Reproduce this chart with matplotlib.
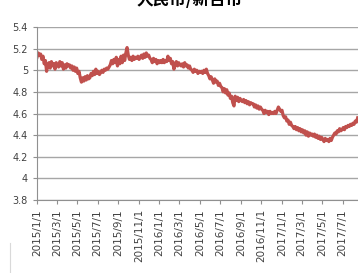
import pandas as pd
import matplotlib.pyplot as plt
from matplotlib.lines import Line2D

plt.rcParams['font.family'] = ['Noto Sans CJK SC', 'DejaVu Sans']

# readings about twice a week, 2015/1/1 .. 2017/8/15 (one row per month)
rate = [5.12, 5.16, 5.14, 5.15, 5.10, 5.13, 5.06, 5.09, 4.99, 5.05,
        5.07, 5.02, 5.08, 5.04, 5.06, 5.01, 5.07, 5.05,
        5.03, 5.08, 5.04, 5.07, 5.01, 5.05, 5.02, 5.06, 5.04,
        5.05, 5.02, 5.04, 5.00, 5.03, 4.99, 5.02, 4.97, 4.99,
        4.93, 4.89, 4.93, 4.90, 4.94, 4.91, 4.95, 4.92,
        4.93, 4.97, 4.95, 4.99, 4.96, 5.01, 4.97, 4.99, 4.96,
        4.98, 5.00, 4.98, 5.01, 5.00, 5.02, 5.01, 5.03,
        5.05, 5.09, 5.06, 5.10, 5.07, 5.12, 5.04, 5.10, 5.06,
        5.13, 5.07, 5.14, 5.09, 5.16, 5.21, 5.14, 5.10, 5.12,
        5.09, 5.13, 5.10, 5.12, 5.11, 5.13, 5.10, 5.12,
        5.14, 5.11, 5.15, 5.12, 5.16, 5.13, 5.14, 5.11,
        5.10, 5.07, 5.11, 5.08, 5.10, 5.06, 5.09, 5.07, 5.09,
        5.07, 5.10, 5.07, 5.09, 5.08, 5.13, 5.09, 5.11,
        5.06, 5.08, 5.01, 5.05, 5.08, 5.04, 5.07, 5.05,
        5.04, 5.06, 5.03, 5.07, 5.04, 5.05, 5.02, 5.04, 5.01,
        5.00, 4.98, 5.01, 4.99, 5.00, 4.97, 4.99, 4.98,
        4.99, 4.97, 5.00, 4.98, 5.01, 4.97, 4.95, 4.92, 4.94,
        4.91, 4.88, 4.92, 4.89, 4.90, 4.86, 4.88, 4.85,
        4.84, 4.80, 4.83, 4.79, 4.82, 4.77, 4.79, 4.74, 4.76,
        4.70, 4.67, 4.76, 4.72, 4.75, 4.71, 4.74, 4.72,
        4.71, 4.73, 4.70, 4.72, 4.69, 4.71, 4.68, 4.70, 4.69,
        4.69, 4.66, 4.68, 4.65, 4.67, 4.64, 4.66, 4.64,
        4.63, 4.60, 4.63, 4.61, 4.62, 4.59, 4.62, 4.60, 4.61,
        4.60, 4.62, 4.60, 4.63, 4.66, 4.64, 4.62, 4.63,
        4.58, 4.56, 4.57, 4.53, 4.54, 4.50, 4.52, 4.49,
        4.48, 4.46, 4.48, 4.45, 4.47, 4.44, 4.46, 4.43,
        4.45, 4.42, 4.44, 4.40, 4.43, 4.39, 4.42, 4.40, 4.41,
        4.39, 4.41, 4.38, 4.40, 4.37, 4.39, 4.36, 4.38,
        4.36, 4.34, 4.37, 4.35, 4.36, 4.34, 4.37, 4.35, 4.38,
        4.40, 4.42, 4.41, 4.44, 4.43, 4.46, 4.44, 4.45,
        4.47, 4.45, 4.48, 4.47, 4.49, 4.48, 4.50, 4.49, 4.51,
        4.50, 4.53, 4.52, 4.56]
dates = pd.date_range('2015-01-01', '2017-08-15', periods=len(rate))

tick_dates = pd.date_range('2015-01-01', '2017-07-01', freq='2MS')
tick_labels = [f"{d.year}/{d.month}/1" for d in tick_dates]
y_ticks = [3.8, 4, 4.2, 4.4, 4.6, 4.8, 5, 5.2, 5.4]
y_labels = ["3.8", "4", "4.2", "4.4", "4.6", "4.8", "5", "5.2", "5.4"]

fig = plt.figure(figsize=(3.58, 2.73), dpi=100)
ax = fig.add_axes([37/358, 1-200/273, 1-37/358, 173/273])

ax.plot(dates, rate, color='#C0504D', linewidth=2.3)

ax.set_xlim(pd.Timestamp('2015-01-01'), pd.Timestamp('2017-08-16'))
ax.set_ylim(3.8, 5.4)
ax.set_yticks(y_ticks)
ax.set_yticklabels(y_labels, fontsize=7, family='DejaVu Sans')
ax.set_xticks(tick_dates)
ax.set_xticklabels(tick_labels, rotation=90, fontsize=7.5, family='DejaVu Sans')
ax.tick_params(colors='#404040', length=3, width=0.8)
ax.tick_params(axis='x', color='#909090')
ax.tick_params(axis='y', color='#909090')
ax.grid(axis='y', color='#A6A6A6', linewidth=1)
ax.set_axisbelow(True)
for s in ['top', 'right']:
    ax.spines[s].set_visible(False)
for s in ['left', 'bottom']:
    ax.spines[s].set_color('#909090')

# faint chart-area border at lower left
fig.add_artist(Line2D([10/358, 10/358], [0, 30/273], color='#D9D9D9', linewidth=0.8))

# title sits partly above the top edge, as in the source image
fig.text(190/358, 1-9/273, "人民币/新台币", ha='center', va='bottom', fontsize=12, fontweight='bold')

fig.savefig('out.png', dpi=100)
